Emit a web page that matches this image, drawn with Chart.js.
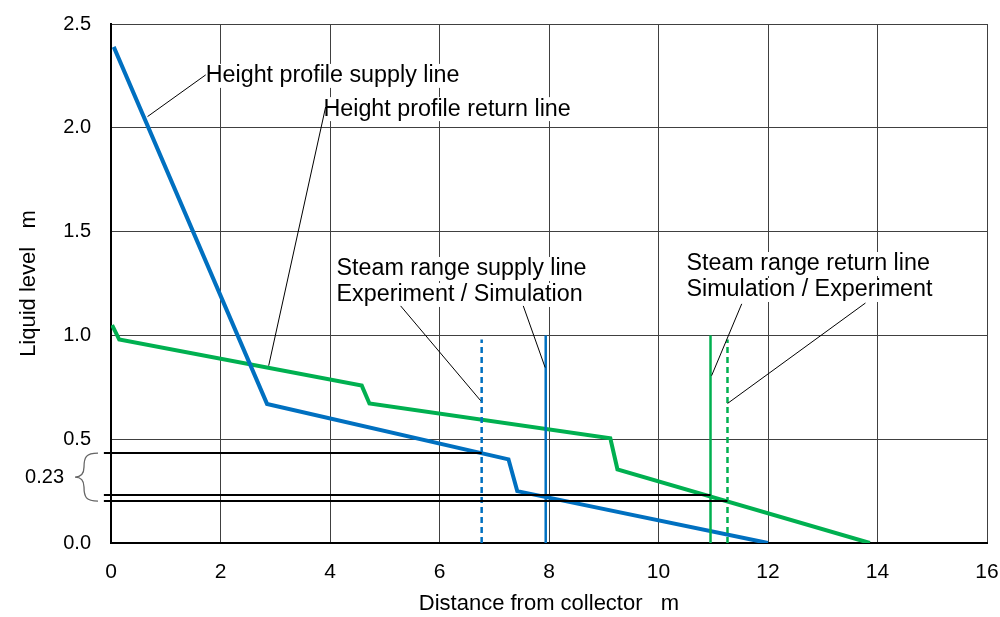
<!DOCTYPE html>
<html>
<head>
<meta charset="utf-8">
<script src="https://cdn.jsdelivr.net/npm/chart.js@4.4.1/dist/chart.umd.min.js"></script>
<style>
  html, body { margin: 0; padding: 0; background: #fff; }
  #wrap { width: 1000px; height: 617px; }
</style>
</head>
<body>
<div id="wrap"><canvas id="chart"></canvas></div>
<script>
// height profiles (distance m, level m)
const supplyX = [0.05, 2.85, 7.26, 7.42, 12.0];
const supplyY = [2.39, 0.67, 0.403, 0.25, 0.0];
const returnX = [0.02, 0.15, 4.58, 4.72, 9.12, 9.25, 13.86];
const returnY = [1.05, 0.98, 0.758, 0.672, 0.504, 0.355, 0.0];

// steam range markers: x position, top level
const steamSupplyExp = [6.77, 0.98];
const steamSupplySim = [7.94, 1.0];
const steamReturnSim = [10.95, 1.0];
const steamReturnExp = [11.26, 0.98];

// horizontal reference levels: level, end x
const refLevels = [0.433, 0.231, 0.202];
const refEnds = [6.77, 10.95, 11.26];
const refStart = -0.13;

const xTicks = [0, 2, 4, 6, 8, 10, 12, 14, 16];
const yTicks = [0, 0.5, 1.0, 1.5, 2.0, 2.5];

// annotations: text lines, anchor (x,y) of text, leader lines [x1,y1,x2,y2]
const notes = [
  { lines: ['Height profile supply line'], at: [1.73, 2.25], leaders: [[1.73, 2.255, 0.667, 2.054]] },
  { lines: ['Height profile return line'], at: [3.88, 2.09], leaders: [[3.92, 2.10, 2.88, 0.854]] },
  { lines: ['Steam range supply line', 'Experiment / Simulation'], at: [4.12, 1.32],
    leaders: [[5.29, 1.142, 6.75, 0.686], [7.53, 1.142, 7.93, 0.845]] },
  { lines: ['Steam range return line', 'Simulation / Experiment'], at: [10.51, 1.344],
    leaders: [[11.52, 1.152, 10.97, 0.806], [13.78, 1.156, 11.26, 0.672]] }
];
const braceLabel = '0.23';

const BLUE = '#0070C0';
const GREEN = '#00B050';
const FONT = "'Liberation Sans', Arial, sans-serif";

const pts = (xs, ys) => xs.map((x, i) => ({ x: x, y: ys[i] }));
const vline = (m) => [{ x: m[0], y: 0 }, { x: m[0], y: m[1] }];

const datasets = [];
refLevels.forEach((lv, i) => {
  datasets.push({
    data: [{ x: refStart, y: lv }, { x: refEnds[i], y: lv }],
    borderColor: '#000', borderWidth: 2, clip: false, order: 0
  });
});
datasets.push(
  { data: pts(supplyX, supplyY), borderColor: BLUE, borderWidth: 4, order: 2 },
  { data: pts(returnX, returnY), borderColor: GREEN, borderWidth: 4, order: 2 },
  { data: vline(steamSupplyExp), borderColor: BLUE, borderWidth: 2.5, borderDash: [6, 4], order: 1 },
  { data: vline(steamSupplySim), borderColor: BLUE, borderWidth: 2.5, order: 1 },
  { data: vline(steamReturnSim), borderColor: GREEN, borderWidth: 2.5, order: 1 },
  { data: vline(steamReturnExp), borderColor: GREEN, borderWidth: 2.5, borderDash: [6, 4], order: 1 }
);
datasets.forEach(d => { d.showLine = true; d.pointRadius = 0; d.tension = 0; d.fill = false; });

const notesPlugin = {
  id: 'notes',
  afterDraw(chart) {
    const { ctx, scales: { x, y }, chartArea } = chart;
    ctx.save();
    ctx.font = '23.3px ' + FONT;
    ctx.textBaseline = 'middle';
    ctx.textAlign = 'left';
    notes.forEach(n => {
      const px = x.getPixelForValue(n.at[0]);
      let py = y.getPixelForValue(n.at[1]);
      n.lines.forEach((t, i) => {
        const w = ctx.measureText(t).width;
        ctx.fillStyle = '#fff';
        ctx.fillRect(px - 1, py + i * 26 - 12, w + 2, 24);
      });
      ctx.strokeStyle = '#000';
      ctx.lineWidth = 1;
      n.leaders.forEach(l => {
        ctx.beginPath();
        ctx.moveTo(x.getPixelForValue(l[0]), y.getPixelForValue(l[1]));
        ctx.lineTo(x.getPixelForValue(l[2]), y.getPixelForValue(l[3]));
        ctx.stroke();
      });
      ctx.fillStyle = '#000';
      n.lines.forEach((t, i) => ctx.fillText(t, px, py + i * 26));
    });

    // brace and label for the level difference
    const top = y.getPixelForValue(refLevels[0]);
    const bot = y.getPixelForValue(refLevels[2]);
    const mid = (top + bot) / 2;
    const bx = chartArea.left - 13;
    ctx.strokeStyle = '#666';
    ctx.lineWidth = 1.3;
    ctx.beginPath();
    ctx.moveTo(bx, top);
    ctx.bezierCurveTo(bx - 12, top, bx - 14, top + 4, bx - 14, mid - 10);
    ctx.bezierCurveTo(bx - 14, mid - 3, bx - 18, mid, bx - 23, mid);
    ctx.bezierCurveTo(bx - 18, mid, bx - 14, mid + 3, bx - 14, mid + 10);
    ctx.bezierCurveTo(bx - 14, bot - 4, bx - 12, bot, bx, bot);
    ctx.stroke();
    ctx.fillStyle = '#000';
    ctx.font = '20px ' + FONT;
    ctx.textAlign = 'right';
    ctx.fillText(braceLabel, bx - 34, mid);
    ctx.restore();
  }
};

new Chart(document.getElementById('chart'), {
  type: 'scatter',
  data: { datasets: datasets },
  options: {
    responsive: true,
    maintainAspectRatio: false,
    animation: false,
    layout: { padding: { top: 24, right: 13, left: 0, bottom: 0 } },
    plugins: { legend: { display: false }, tooltip: { enabled: false } },
    scales: {
      x: {
        type: 'linear', min: 0, max: 16,
        afterBuildTicks: (s) => { s.ticks = xTicks.map(v => ({ value: v })); },
        afterFit: (s) => { s.height = 74; s.paddingLeft = 0; s.paddingRight = 0; },
        grid: { color: '#404040', lineWidth: 1, drawTicks: false },
        border: { color: '#000', width: 2 },
        ticks: { color: '#000', font: { family: FONT, size: 21 }, padding: 17 },
        title: { display: true, text: 'Distance from collector   m', color: '#000',
                 font: { family: FONT, size: 22 }, padding: { top: 2, bottom: 0 } }
      },
      y: {
        type: 'linear', min: 0, max: 2.5,
        afterBuildTicks: (s) => { s.ticks = yTicks.map(v => ({ value: v })); },
        afterFit: (s) => { s.width = 111; s.paddingTop = 0; s.paddingBottom = 0; },
        grid: { color: '#404040', lineWidth: 1, drawTicks: false },
        border: { color: '#000', width: 2 },
        ticks: { color: '#000', font: { family: FONT, size: 20 }, padding: 20,
                 callback: (v) => Number(v).toFixed(1) },
        title: { display: true, text: 'Liquid level   m', color: '#000',
                 font: { family: FONT, size: 22 }, padding: { top: 16, bottom: 4 } }
      }
    }
  },
  plugins: [notesPlugin]
});
</script>
</body>
</html>
